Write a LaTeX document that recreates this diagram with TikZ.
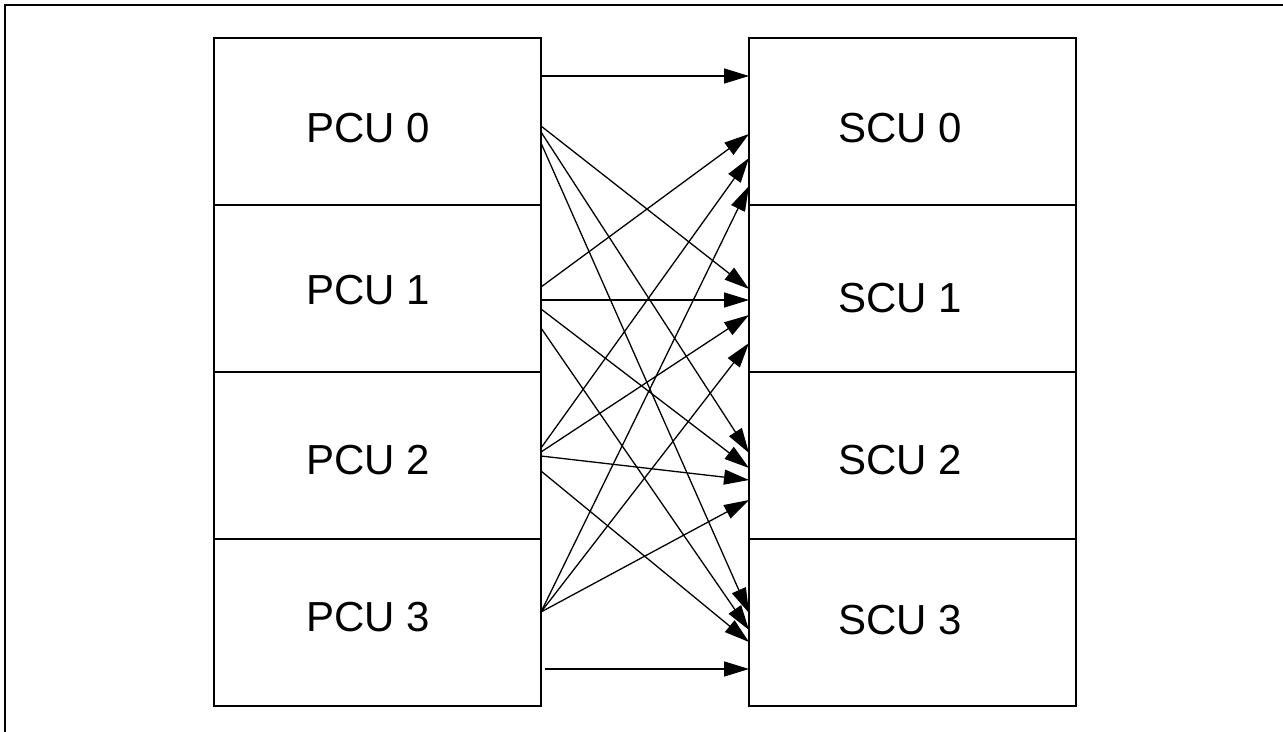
\documentclass[tikz,border=0pt]{standalone}
\usepackage{fontspec}
\setmainfont{Liberation Sans}
\usetikzlibrary{arrows.meta}

\begin{document}
\begin{tikzpicture}[x=0.5pt,y=-0.5pt,
    unit/.style={draw,line width=0.75pt,minimum width=163.5pt,minimum height=83.5pt,inner sep=0pt,outer sep=0pt},
    conn/.style={line width=0.65pt,-{Triangle[length=12.5pt,width=7.5pt]}},
    font=\fontsize{21}{25}\selectfont]
  \useasboundingbox (0,0) rectangle (1283,732);
  \draw[line width=0.75pt] (5,732) -- (5,5) -- (1283,5);
  \foreach \i/\y/\py/\sy in {0/121.5/128/128, 1/288.5/290/298, 2/455.5/460/460, 3/622.5/617/620}{
    \node[unit] (pcu\i) at (377.5,\y) {};
    \node[unit] (scu\i) at (912.5,\y) {};
    \node (pcu\i-txt) at (368,\py) {PCU \i};
    \node (scu\i-txt) at (900,\sy) {SCU \i};
  }
  % every PCU feeds every SCU
  \foreach \a/\b/\ya/\yb in {0/0/76/76, 0/1/126/289, 0/2/132/453, 0/3/143/613,
                             1/0/287/134, 1/1/300/300, 1/2/309/468, 1/3/328/630,
                             2/0/448/158, 2/1/452/315, 2/2/456/480, 2/3/471/642,
                             3/0/612/186, 3/1/612/343, 3/2/612/500}{
    \coordinate (o\a\b) at (541,\ya);
    \coordinate (t\a\b) at (749,\yb);
    \draw[conn] (o\a\b) -- (t\a\b);
  }
  \coordinate (o33) at (545,669);
  \coordinate (t33) at (749,669);
  \draw[conn] (o33) -- (t33);
\end{tikzpicture}
\end{document}
